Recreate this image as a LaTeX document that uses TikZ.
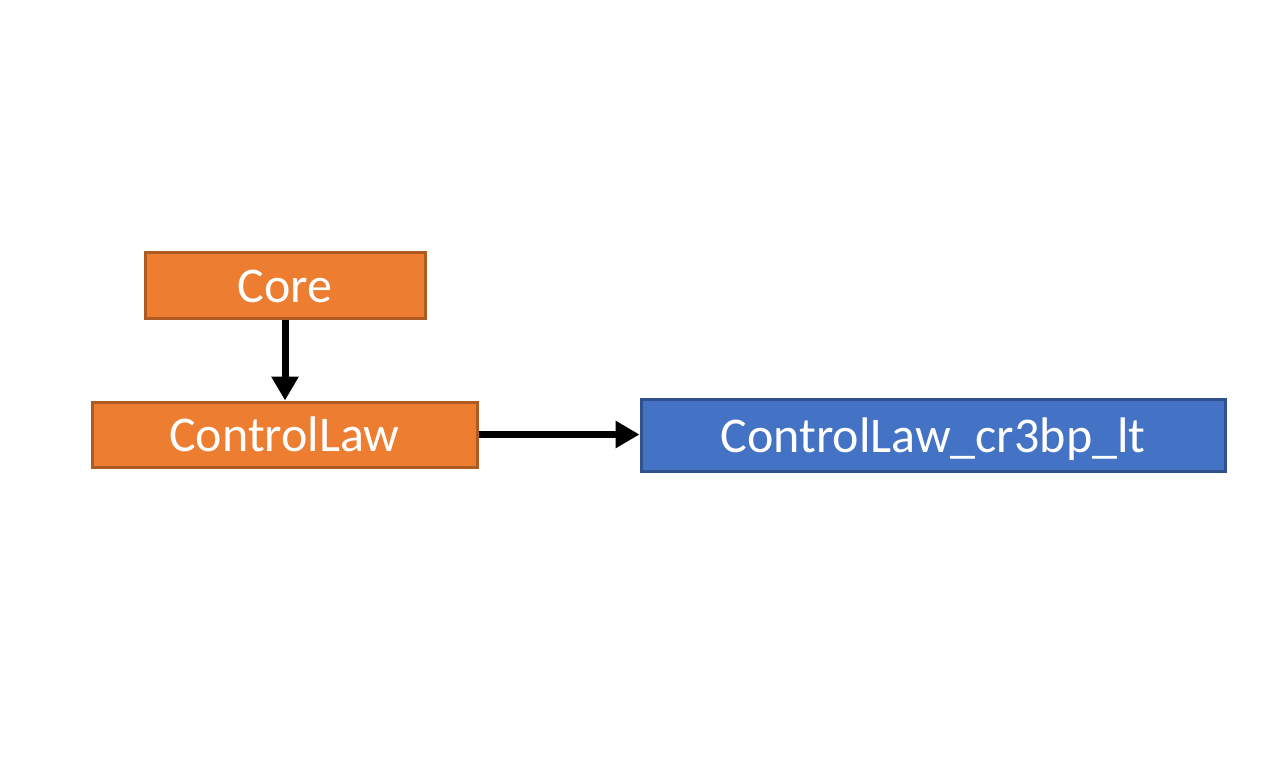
\documentclass[tikz,border=0pt]{standalone}
\usepackage{fontspec}
\setmainfont{Carlito}
\usetikzlibrary{arrows.meta}
\definecolor{orfill}{HTML}{ED7D31}
\definecolor{ordraw}{HTML}{AE5A21}
\definecolor{blfill}{HTML}{4472C4}
\definecolor{bldraw}{HTML}{2F528F}
\tikzset{
  basebox/.style={line width=3pt, inner sep=0pt, text=white, text height=40pt, text depth=6pt, font=\fontsize{50}{54}\selectfont},
  obox/.style={basebox, draw=ordraw, fill=orfill},
  bbox/.style={basebox, draw=bldraw, fill=blfill},
  conn/.style={line width=7pt, -{Triangle[length=24pt,width=26pt]}}
}
\begin{document}
\begin{tikzpicture}[x=1pt,y=-1pt]
\useasboundingbox (0,0) rectangle (1280,768);
\node[obox, minimum width=280pt, minimum height=66pt] (core) at (285,285) {Core};
\node[obox, minimum width=385pt, minimum height=65pt] (cl) at (284.5,434.5) {ControlLaw};
\node[bbox, minimum width=584pt, minimum height=72pt] (cr) at (933,435) {ControlLaw\_cr3bp\_lt};
\draw[conn] (core.south) -- (core.south |- cl.north);
\draw[conn] (cl.east) -- (cl.east -| cr.west);
\end{tikzpicture}
\end{document}
